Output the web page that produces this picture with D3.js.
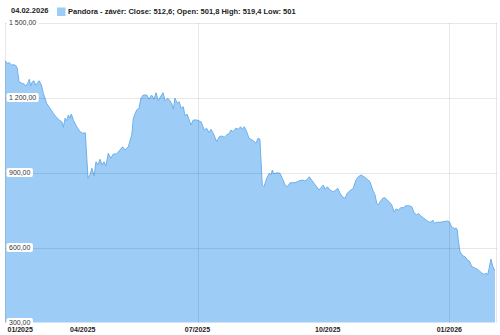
<!DOCTYPE html>
<meta charset="utf-8">

<style type="text/css">
  body {
    margin: 0;
    background: #fff;
    font-family: "Liberation Sans", Arial, sans-serif;
  }

  .grid line {
    stroke: #000;
    stroke-opacity: 0.09;
    shape-rendering: crispEdges;
  }

  .ylab text {
    font-size: 7px;
    fill: #333;
  }

  .xlab text {
    font-size: 7px;
    font-weight: bold;
    fill: #222;
  }

  .legend text {
    font-size: 7.5px;
    font-weight: bold;
    fill: #222;
  }
</style>

<body></body>

<script src="https://d3js.org/d3.v7.min.js"></script>
<script>
  // position along the timeline in trading days (0 = first day shown)
  var tradingDay = [0, 1.2, 2.2, 3.4, 4.6, 5.7, 6.3, 7.2, 8.6, 9.8, 10.8, 11.7, 12.5, 13.2, 14.0, 14.9, 15.8, 16.6, 17.6, 18.7,
    19.7, 21.4, 23.1, 24.8, 26.2, 27.9, 29.2, 30.0, 30.9, 31.7, 32.6, 33.4, 34.1, 35.1, 36.9, 38.6, 40.0, 41.3, 42.7, 43.7,
    44.7, 45.8, 46.8, 47.8, 48.9, 49.9, 50.9, 51.9, 53.1, 54.4, 55.7, 57.4, 59.1, 60.5, 61.7, 63.4,
    65.2, 66.0, 67.7, 68.9, 69.9, 71.1, 72.9, 74.1, 75.4, 76.6, 77.7, 78.8, 80.2, 81.3, 82.3, 83.7, 84.5, 85.7, 86.6, 87.4,
    88.6, 89.6, 90.5, 91.7, 92.6, 93.6, 94.6, 95.7, 96.8, 98.6, 100.8, 102.5, 103.7, 104.9, 105.9, 107.1, 108.9, 110.2, 111.4, 112.8,
    114.0, 115.4, 116.2, 117.4, 118.7, 120.0, 121.2, 122.0, 123.1, 124.3, 125.5,
    127.7, 129.1, 130.1, 131.1, 132.3, 133.2, 134.6, 135.9, 136.8, 137.5, 138.3, 139.7, 141.4, 142.6, 144.0, 145.2, 146.6, 149.1, 151.4, 153.1,
    154.3, 155.5, 156.5, 157.7, 158.9, 160.3, 161.5, 162.9, 163.7, 164.6, 165.8, 167.1, 168.8, 170.2, 171.1, 172.3, 173.7, 174.9, 176.0, 177.4,
    179.1, 180.5, 181.7, 183.1, 184.6, 186.3, 187.7, 189.1, 190.3, 191.2, 192.0,
    192.9, 194.3, 195.4, 196.6, 197.6, 198.9, 200.1, 201.1, 202.3, 203.5, 204.8, 206.2, 207.9, 209.2, 210.3, 211.7, 212.6, 213.8, 215.1, 216.5,
    217.7, 218.9, 220.0, 220.8, 222.0, 223.7, 225.4, 227.5, 228.5, 229.7, 230.5, 231.4, 231.9, 232.6, 233.1, 234.0, 235.4, 236.6, 237.8, 238.8,
    240.1, 241.3, 242.7, 244.0, 245.3, 246.5, 247.5, 248.2, 249.0, 249.9, 250.7, 251.5, 252
  ];

  var closePrice = [1347, 1337, 1339, 1330, 1331, 1327, 1317, 1263, 1257, 1254, 1246, 1257, 1273, 1246, 1262, 1267, 1249, 1257, 1267, 1250,
    1217, 1177, 1157, 1137, 1123, 1110, 1103, 1081, 1117, 1107, 1130, 1117, 1134, 1110, 1083, 1063, 1057, 1059, 877, 890,
    917, 886, 943, 930, 953, 930, 943, 926, 977, 957, 974, 974, 990, 1003, 990, 1003,
    1050, 1117, 1150, 1157, 1197, 1210, 1210, 1193, 1210, 1193, 1219, 1187, 1206, 1219, 1187, 1197, 1190, 1177, 1153, 1197,
    1177, 1183, 1157, 1163, 1126, 1134, 1113, 1090, 1110, 1110, 1103, 1070, 1077, 1059, 1073, 1057, 1023, 1043, 1046, 1041,
    1050, 1057, 1070, 1063, 1077, 1073, 1083, 1073, 1083, 1063, 1037,
    1027, 1017, 1037, 1033, 850, 843, 877, 897, 890, 910, 894, 899, 897, 877, 850, 843, 859, 859, 867, 870,
    866, 873, 883, 870, 857, 843, 830, 843, 850, 833, 843, 830, 823, 830, 837, 817, 801, 797, 817, 827,
    837, 870, 883, 890, 883, 873, 863, 830, 810, 777, 770,
    783, 797, 799, 790, 783, 770, 743, 754, 750, 759, 759, 767, 767, 763, 741, 730, 737, 727, 719, 710,
    703, 701, 710, 697, 701, 701, 703, 706, 703, 683, 679, 674, 679, 670, 630, 583, 567, 563, 550, 546,
    523, 519, 514, 506, 497, 493, 497, 490, 517, 554, 530, 510, 512.6
  ];

  var yTicks = [300, 600, 900, 1200, 1500];
  var monthLabels = ["01/2025", "04/2025", "07/2025", "10/2025", "01/2026"];
  var monthDay = [0, 40, 99, 166, 228.5];
  var gridDays = [99, 228.5];

  var lastDate = "04.02.2026";
  var seriesName = "Pandora - závěr";
  var quote = { close: 512.6, open: 501.8, high: 519.4, low: 501 };

  var width = 500,
    height = 335,
    margin = { top: 22.5, left: 5, right: 5, bottom: 12.5 };

  var x = d3.scaleLinear().domain([0, 252]).range([margin.left, width - margin.right]);
  var y = d3.scaleLinear().domain([300, 1500]).range([height - margin.bottom, margin.top]);

  var cz = d3.formatLocale({ decimal: ",", thousands: " ", grouping: [3], currency: ["", ""] });
  var fmtTick = cz.format(",.2f");
  var fmtQuote = cz.format("~f");

  var data = tradingDay.map(function(t, i) {
    return { t: t, v: closePrice[i] };
  });

  var svg = d3.select("body").append("svg")
    .attr("width", width)
    .attr("height", height);

  var area = d3.area()
    .x(function(d) { return x(d.t); })
    .y0(y(300))
    .y1(function(d) { return y(d.v); });

  var line = d3.line()
    .x(function(d) { return x(d.t); })
    .y(function(d) { return y(d.v); });

  svg.append("path")
    .datum(data)
    .attr("fill", "#9dcdf7")
    .attr("d", area);

  svg.append("path")
    .datum(data)
    .attr("fill", "none")
    .attr("stroke", "#6eb0ea")
    .attr("stroke-width", 1)
    .attr("d", line);

  // grid
  var grid = svg.append("g").attr("class", "grid");
  grid.selectAll(".h")
    .data(yTicks.filter(function(d) { return d > 300; }))
    .enter().append("line")
    .attr("x1", margin.left)
    .attr("x2", width - margin.right + 1.5)
    .attr("y1", function(d) { return Math.round(y(d)) + 0.5; })
    .attr("y2", function(d) { return Math.round(y(d)) + 0.5; });

  grid.selectAll(".v")
    .data(gridDays)
    .enter().append("line")
    .attr("x1", function(d) { return Math.round(x(d)) + 0.5; })
    .attr("x2", function(d) { return Math.round(x(d)) + 0.5; })
    .attr("y1", y(1500))
    .attr("y2", y(300));

  grid.append("line")
    .attr("x1", margin.left + 0.5).attr("x2", margin.left + 0.5)
    .attr("y1", y(1500)).attr("y2", y(300));
  grid.append("line")
    .attr("x1", width - margin.right + 1.5).attr("x2", width - margin.right + 1.5)
    .attr("y1", y(1500)).attr("y2", y(300));

  // y labels with white boxes
  var ylab = svg.append("g").attr("class", "ylab");
  var yl = ylab.selectAll("g")
    .data(yTicks)
    .enter().append("g")
    .attr("transform", function(d) { return "translate(9," + y(d) + ")"; });

  yl.append("text")
    .attr("dy", "0.35em")
    .text(function(d) { return fmtTick(d); });

  yl.insert("rect", "text")
    .attr("x", -2.5)
    .attr("y", -4.5)
    .attr("rx", 2)
    .attr("height", 9)
    .attr("width", function() { return this.parentNode.querySelector("text").getComputedTextLength() + 5; })
    .attr("fill", "#fff");

  // x labels
  svg.append("g").attr("class", "xlab")
    .selectAll("text")
    .data(monthLabels)
    .enter().append("text")
    .attr("x", function(d, i) { return i === 0 ? x(monthDay[i]) + 2.5 : x(monthDay[i]); })
    .attr("y", 332)
    .attr("text-anchor", function(d, i) { return i === 0 ? "start" : "middle"; })
    .text(function(d) { return d; });

  // legend
  var legend = svg.append("g").attr("class", "legend");
  legend.append("text")
    .attr("x", 11)
    .attr("y", 13)
    .text(lastDate);
  legend.append("rect")
    .attr("x", 57)
    .attr("y", 7.5)
    .attr("width", 8.5)
    .attr("height", 8.5)
    .attr("fill", "#9dcdf7");
  legend.append("text")
    .attr("x", 68)
    .attr("y", 14)
    .text(seriesName + ": Close: " + fmtQuote(quote.close) + "; Open: " + fmtQuote(quote.open) +
      " High: " + fmtQuote(quote.high) + " Low: " + fmtQuote(quote.low));
</script>
